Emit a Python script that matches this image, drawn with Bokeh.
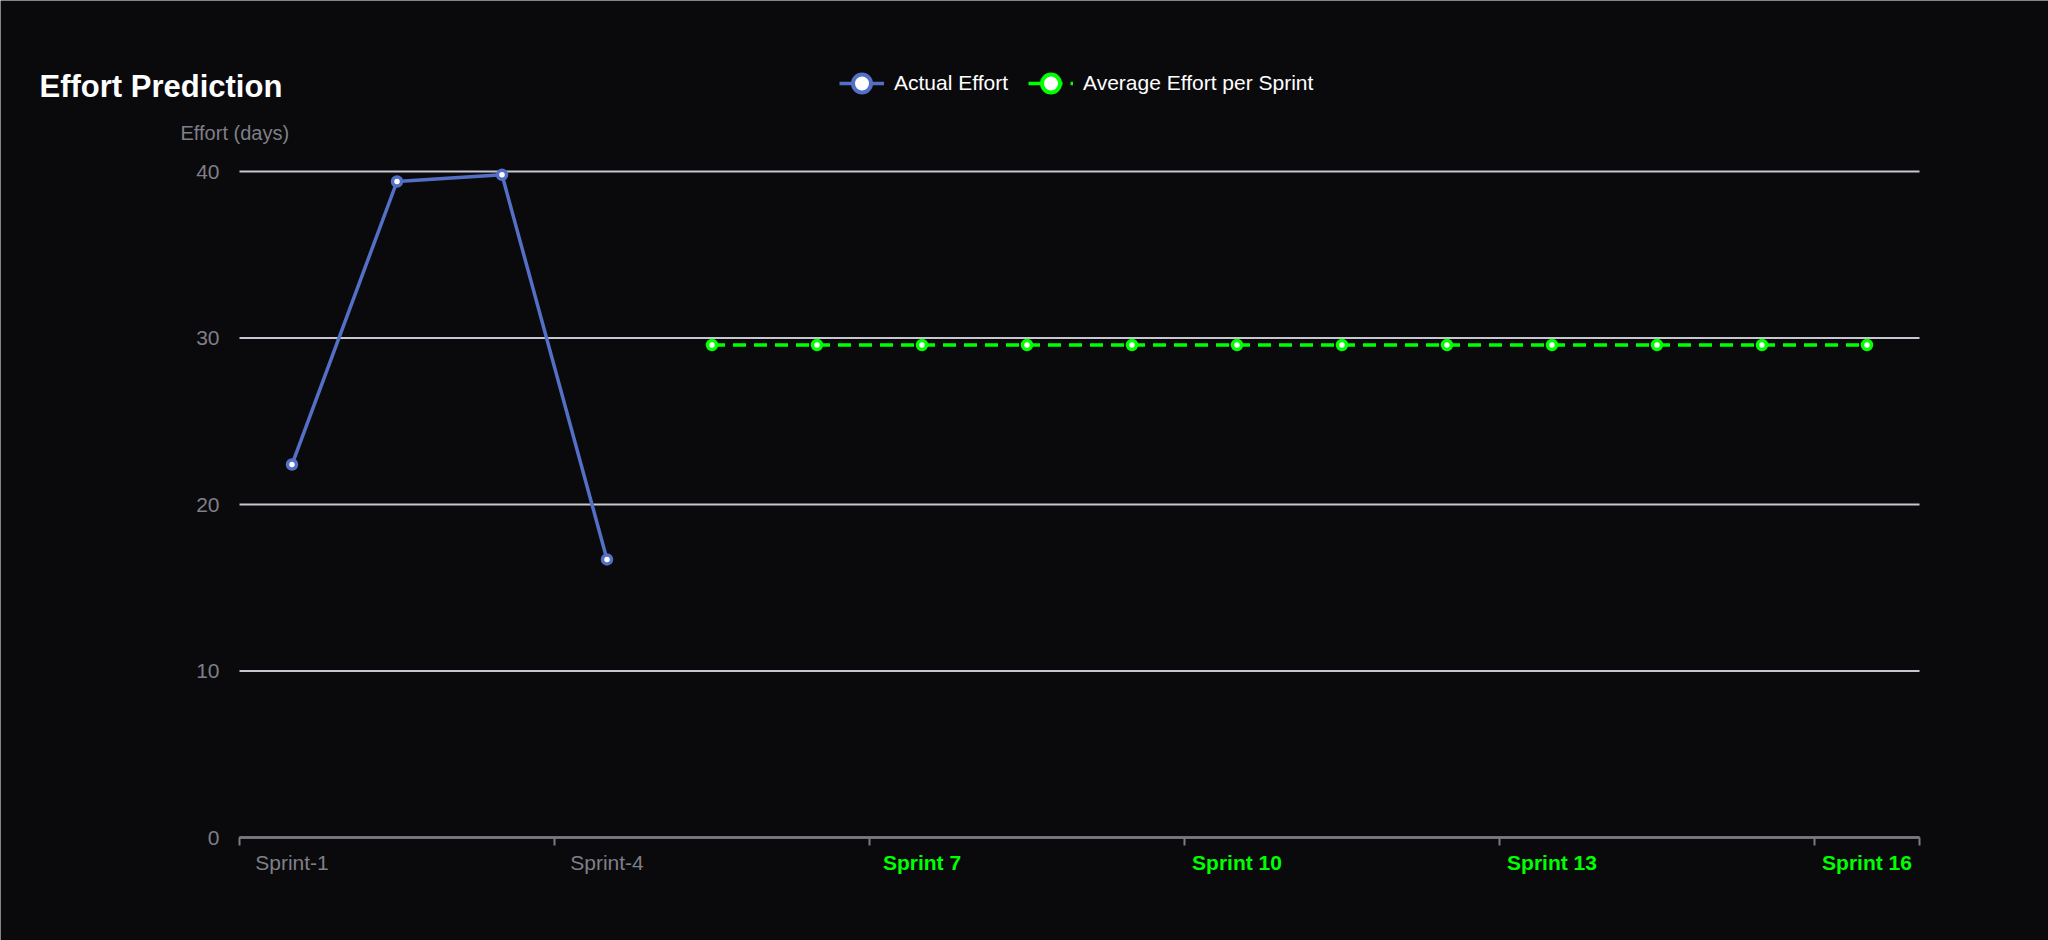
import numpy as np
from bokeh.plotting import figure
from bokeh.models import (Range1d, FixedTicker, Label, LabelSet, Legend, LegendItem,
                          ColumnDataSource)
from bokeh.core.properties import value
from bokeh.embed import file_html
from bokeh.resources import INLINE

# ---------------- data ----------------
title_text = "Effort Prediction"
y_axis_name = "Effort (days)"
sprints = ["Sprint-1", "Sprint-2", "Sprint-3", "Sprint-4", "Sprint 5", "Sprint 6",
           "Sprint 7", "Sprint 8", "Sprint 9", "Sprint 10", "Sprint 11", "Sprint 12",
           "Sprint 13", "Sprint 14", "Sprint 15", "Sprint 16"]
actual_sprints = ["Sprint-1", "Sprint-2", "Sprint-3", "Sprint-4"]
actual_effort = [22.4, 39.4, 39.8, 16.7]
average_sprints = ["Sprint 5", "Sprint 6", "Sprint 7", "Sprint 8", "Sprint 9", "Sprint 10",
                   "Sprint 11", "Sprint 12", "Sprint 13", "Sprint 14", "Sprint 15", "Sprint 16"]
average_effort = [29.58, 29.58, 29.58, 29.58, 29.58, 29.58,
                  29.58, 29.58, 29.58, 29.58, 29.58, 29.58]
y_ticks = [0, 10, 20, 30, 40]
label_interval = 3
series_names = ["Actual Effort", "Average Effort per Sprint"]

# ---------------- styles / layout ----------------
BG = "#0a0a0d"
GRAY_TXT = "#7f7f87"
AXIS_COL = "#7a7b82"
GRID_COL = "#c6c7d0"
BLUE = "#5470c6"
GREEN = "#00ff00"
FONT = "Liberation Sans"

W, H = 2048, 940
PL, PR, PT, PB = 239, 1919, 171, 837   # plot area in canvas pixels

n = len(sprints)
x_lo, x_hi = 0, n
y_lo, y_hi = y_ticks[0], y_ticks[-1]
kx = (PR - PL) / (x_hi - x_lo)
ky = (PB - PT) / (y_hi - y_lo)

# frame covers the whole canvas; ranges chosen so the data area lands on the plot area
p = figure(width=W, height=H, output_backend="svg", toolbar_location=None,
           x_range=Range1d(x_lo - PL / kx, x_hi + (W - PR) / kx),
           y_range=Range1d(y_lo - (H - PB) / ky, y_hi + PT / ky),
           min_border=0, min_border_left=0, min_border_right=0,
           min_border_top=0, min_border_bottom=0,
           background_fill_color=BG, border_fill_color=BG, outline_line_color=None)
p.xgrid.visible = False
p.ygrid.visible = False

center = {s: i + 0.5 for i, s in enumerate(sprints)}

# horizontal split lines
p.segment(x0=[x_lo] * len(y_ticks), x1=[x_hi] * len(y_ticks), y0=y_ticks, y1=y_ticks,
          line_color=GRID_COL, line_width=2, level="underlay")

# y axis
p.yaxis.fixed_location = x_lo
p.yaxis.bounds = (y_lo, y_hi)
p.yaxis.ticker = FixedTicker(ticks=y_ticks)
p.yaxis.axis_line_color = None
p.yaxis.major_tick_line_color = None
p.yaxis.minor_tick_line_color = None
p.yaxis.major_label_standoff = 14
p.yaxis.major_label_text_font = FONT
p.yaxis.major_label_text_font_size = "21px"
p.yaxis.major_label_text_color = GRAY_TXT

# x axis: ticks at band boundaries, labels centred in bands
boundaries = list(range(0, n, label_interval)) + [n]
p.xaxis.fixed_location = y_lo
p.xaxis.bounds = (x_lo, x_hi)
p.xaxis.ticker = FixedTicker(ticks=boundaries)
p.xaxis.axis_line_color = AXIS_COL
p.xaxis.axis_line_width = 2
p.xaxis.major_tick_line_color = AXIS_COL
p.xaxis.major_tick_line_width = 2
p.xaxis.major_tick_out = 8
p.xaxis.major_tick_in = 0
p.xaxis.minor_tick_line_color = None
p.xaxis.major_label_text_color = None
p.xaxis.major_label_text_font_size = "1px"

shown = sprints[::label_interval]
lab_src = ColumnDataSource(dict(
    x=[center[s] for s in shown],
    y=[y_lo] * len(shown),
    text=shown,
    color=[GRAY_TXT if s in actual_sprints else GREEN for s in shown],
    style=["normal" if s in actual_sprints else "bold" for s in shown],
))
p.add_layout(LabelSet(x="x", y="y", text="text", source=lab_src, y_offset=-25,
                      text_color="color", text_font_style="style",
                      text_font=value(FONT), text_font_size=value("21px"),
                      text_align="center", text_baseline="middle"))

# series
ax = [center[s] for s in actual_sprints]
gx = [center[s] for s in average_sprints]
r_actual = p.line(ax, actual_effort, line_color=BLUE, line_width=3.5)
p.scatter(ax, actual_effort, size=9, fill_color="white", line_color=BLUE, line_width=3.5)
r_avg = p.line(gx, average_effort, line_color=GREEN, line_width=3.5, line_dash="13 8")
p.scatter(gx, average_effort, size=9, fill_color="white", line_color=GREEN, line_width=3.5)

# legend-only markers (bigger)
nan = np.array([np.nan])
leg_blue = p.scatter(nan, nan, size=18, fill_color="white", line_color=BLUE, line_width=4)
leg_green = p.scatter(nan, nan, size=18, fill_color="white", line_color=GREEN, line_width=4)

legend = Legend(items=[LegendItem(label=series_names[0], renderers=[r_actual, leg_blue]),
                       LegendItem(label=series_names[1], renderers=[r_avg, leg_green])],
                orientation="horizontal", location=(839, H - 112),
                glyph_width=45, glyph_height=58, label_height=58,
                label_standoff=10, spacing=20, padding=0, margin=0,
                label_text_font=FONT, label_text_font_size="21px",
                label_text_color="white", background_fill_alpha=0,
                border_line_color=None)
p.add_layout(legend)

# title and y-axis name
p.add_layout(Label(x=39, y=86, x_units="canvas", y_units="canvas", text=title_text,
                   text_font=FONT, text_font_size="31px", text_font_style="bold",
                   text_color="white", text_baseline="middle"))
p.add_layout(Label(x=180, y=132, x_units="canvas", y_units="canvas", text=y_axis_name,
                   text_font=FONT, text_font_size="20px",
                   text_color=GRAY_TXT, text_baseline="middle"))

open("out.html", "w").write(file_html(p, INLINE))
